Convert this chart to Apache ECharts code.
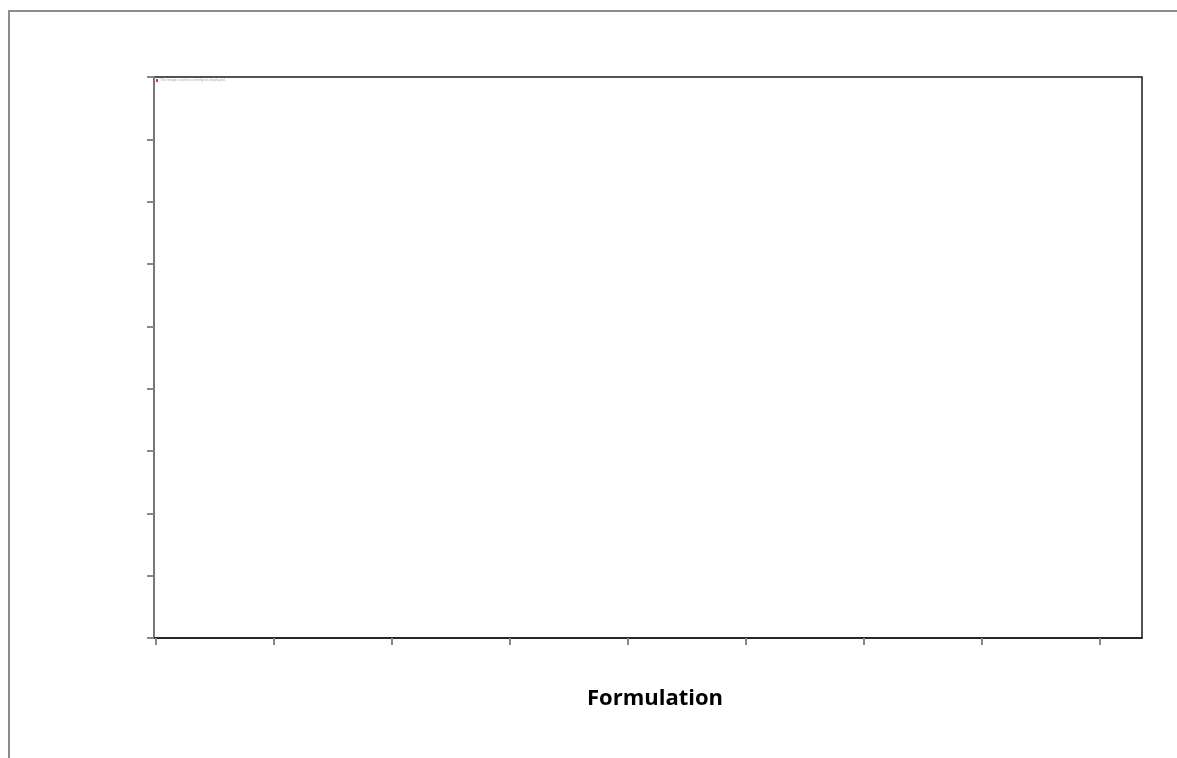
<!DOCTYPE html>
<html>
<head>
<meta charset="utf-8">
<style>
html,body{margin:0;padding:0;background:#fff;}
#chart{width:1177px;height:758px;}
</style>
<script src="https://cdn.jsdelivr.net/npm/echarts@6/dist/echarts.min.js"></script>
</head>
<body>
<div id="chart"></div>
<script>
// Data (the reference chart is empty: no marks are drawn)
const xTickValues = [0, 1, 2, 3, 4, 5, 6, 7, 8];
const yTickValues = [0, 1, 2, 3, 4, 5, 6, 7, 8, 9];
const seriesValues = [];
const xAxisTitle = 'Formulation';
const brokenImageText = 'The image cannot currently be displayed.';

const chart = echarts.init(document.getElementById('chart'), null, {renderer: 'canvas'});
chart.setOption({
  animation: false,
  backgroundColor: '#fff',
  grid: {
    left: 154, top: 77, width: 988, height: 561,
    show: true, borderColor: '#1a1a1a', borderWidth: 1.5, backgroundColor: 'transparent'
  },
  xAxis: {
    type: 'value',
    min: -0.017, max: 8.356,
    name: xAxisTitle,
    nameLocation: 'middle',
    nameGap: 50,
    nameTextStyle: {fontFamily: 'Open Sans', fontWeight: 'bold', fontSize: 22, color: '#000', padding: [0, 0, 0, 14]},
    axisLine: {show: true, onZero: false, lineStyle: {color: '#1a1a1a', width: 1.5}},
    axisTick: {show: true, inside: false, length: 7, customValues: xTickValues, lineStyle: {color: '#888', width: 2}},
    axisLabel: {show: false},
    splitLine: {show: false}
  },
  yAxis: {
    type: 'value',
    min: yTickValues[0], max: yTickValues[yTickValues.length - 1], interval: 1,
    axisLine: {show: true, onZero: false, lineStyle: {color: '#777', width: 2}},
    axisTick: {show: true, inside: false, length: 7, lineStyle: {color: '#888', width: 2}},
    axisLabel: {show: false},
    splitLine: {show: false}
  },
  graphic: [
    {type: 'line', shape: {x1: 8, y1: 11, x2: 1177, y2: 11}, style: {stroke: '#8c8c8c', lineWidth: 2}},
    {type: 'line', shape: {x1: 9, y1: 10, x2: 9, y2: 758}, style: {stroke: '#8c8c8c', lineWidth: 2}},
    {type: 'rect', shape: {x: 156, y: 79, width: 2, height: 3}, style: {fill: '#e03030'}},
    {type: 'text', x: 160, y: 78, style: {text: brokenImageText, fontSize: 3.6, fill: '#aaa', fontFamily: 'Liberation Sans'}}
  ],
  series: [{type: 'scatter', data: seriesValues}]
});
</script>
</body>
</html>
